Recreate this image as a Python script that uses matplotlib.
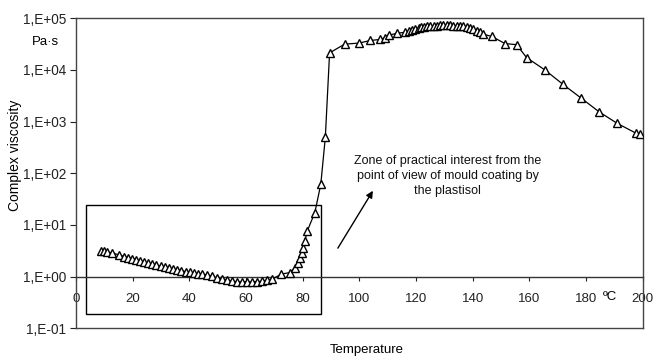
import matplotlib
matplotlib.use("Agg")
import matplotlib.pyplot as plt
from matplotlib.ticker import FixedLocator
from matplotlib.patches import Rectangle

plt.rcParams['font.family'] = ['Liberation Sans', 'DejaVu Sans']

temperature = [8.8, 10.0, 10.8, 12.6, 15.3, 17.0, 18.2, 19.6, 21.1, 22.5, 24.0, 25.5, 27.0, 28.4,
               29.9, 31.3, 32.9, 34.3, 35.8, 37.2, 38.7, 40.1, 41.7, 43.1, 44.6, 46.4, 48.1, 49.9,
               51.6, 53.4, 55.2, 56.9, 58.7, 60.5, 62.2, 64.0, 65.7, 67.5, 69.3, 72.5, 75.5, 77.2,
               78.3, 78.9, 79.6, 80.2, 80.7, 81.6, 84.3, 86.4, 88.0, 89.5, 94.8, 99.8, 103.9, 107.2,
               108.9, 110.3, 113.2, 116.2, 117.4, 118.5, 119.7, 120.9, 121.7, 122.9, 123.8, 125.0,
               126.2, 127.4, 128.5, 129.7, 130.9, 132.0, 133.2, 134.4, 135.6, 136.7, 137.9, 139.1,
               140.2, 141.4, 142.6, 143.8, 146.7, 151.4, 155.5, 159.0, 165.5, 171.9, 178.4, 184.6,
               190.9, 197.5, 199.2]
viscosity = [3.16, 3.16, 3.02, 2.88, 2.63, 2.45, 2.34, 2.24, 2.14, 2.04, 1.91, 1.82, 1.74, 1.66,
             1.58, 1.51, 1.45, 1.41, 1.35, 1.30, 1.25, 1.21, 1.18, 1.14, 1.11, 1.08, 1.01, 0.93,
             0.90, 0.85, 0.81, 0.80, 0.79, 0.79, 0.79, 0.80, 0.81, 0.85, 0.90, 1.12, 1.20, 1.48,
             1.82, 2.29, 2.88, 3.55, 4.79, 7.6, 17.4, 61.7, 501, 21400, 31600, 33100, 37200, 38900,
             41700, 46800, 51300, 53700, 57500, 60300, 63100, 64600, 67600, 69200, 70800, 70800,
             72400, 72400, 74100, 74100, 74100, 74100, 72400, 72400, 70800, 70800, 67600, 64600,
             61700, 57500, 53700, 49000, 44700, 32400, 30900, 17400, 10000, 5250, 2820, 1550,
             933, 603, 575]

x_ticks = [0, 20, 40, 60, 80, 100, 120, 140, 160, 180, 200]
y_ticks = [1e-1, 1e0, 1e1, 1e2, 1e3, 1e4, 1e5]
y_tick_labels = ["1,E-01", "1,E+00", "1,E+01", "1,E+02", "1,E+03", "1,E+04", "1,E+05"]

zone_x = [3.7, 86.5]
zone_y = [0.186, 24.3]
annotation_text = "Zone of practical interest from the\npoint of view of mould coating by\nthe plastisol"

fig = plt.figure(figsize=(6.54, 3.56), dpi=100)
ax = fig.add_axes([0.1162, 0.0778, 0.9827 - 0.1162, 0.9486 - 0.0778])

ax.set_yscale('log')
ax.set_xlim(0, 200)
ax.set_ylim(1e-1, 1e5)

ax.plot(temperature, viscosity, color='black', lw=0.9, marker='^', markersize=6,
        markerfacecolor='white', markeredgecolor='black', markeredgewidth=1.0, zorder=3)

for s in ['left', 'top', 'right']:
    ax.spines[s].set_color('#444444')
    ax.spines[s].set_linewidth(1.0)
ax.spines['bottom'].set_position(('data', 1))
ax.spines['bottom'].set_color('#333333')
ax.spines['bottom'].set_linewidth(1.0)
ax.plot([0, 1], [0, 0], transform=ax.transAxes, color='#444444', lw=1.0, clip_on=False)

ax.xaxis.set_major_locator(FixedLocator(x_ticks))
ax.set_xticklabels([str(v) for v in x_ticks], fontsize=9.5)
ax.tick_params(axis='x', direction='out', length=3, width=0.8, pad=8.5, colors='#222222')
ax.yaxis.set_major_locator(FixedLocator(y_ticks))
ax.yaxis.set_minor_locator(FixedLocator([]))
ax.set_yticklabels(y_tick_labels, fontsize=9.8)
ax.tick_params(axis='y', direction='out', length=4, width=0.8, pad=3, colors='#222222')

ax.add_patch(Rectangle((zone_x[0], zone_y[0]), zone_x[1] - zone_x[0], zone_y[1] - zone_y[0],
                       fill=False, edgecolor='black', lw=1.0, zorder=2))

ax.annotate('', xy=(105.3, 51), xytext=(91.9, 3.2),
            arrowprops=dict(arrowstyle='-|>', color='black', lw=1.0, mutation_scale=10))
ax.text(131.2, 89, annotation_text, ha='center', va='center', fontsize=9,
        linespacing=1.3, color='#111111')

fig.text(45 / 654, 1 - 42 / 356, "Pa·s", ha='center', va='center', fontsize=9.5)
fig.text(610 / 654, 1 - 297 / 356, "ºC", ha='center', va='center', fontsize=9.5)
fig.text(15 / 654, 1 - 155 / 356, "Complex viscosity", rotation=90, ha='center', va='center', fontsize=10)
fig.text(367 / 654, 1 - 350 / 356, "Temperature", ha='center', va='center', fontsize=9.5)

fig.savefig('out.png', dpi=100)
